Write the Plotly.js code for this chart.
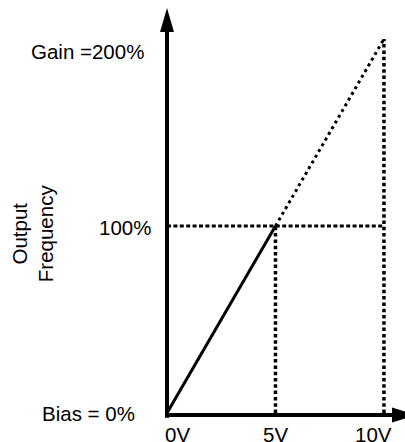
<!DOCTYPE html>
<html>
<head>
<meta charset="utf-8">
<script src="https://cdn.plot.ly/plotly-3.0.1.min.js"></script>
<style>html,body{margin:0;padding:0;background:#fff;}#chart{width:405px;height:442px;}</style>
</head>
<body>
<div id="chart"></div>
<script>
// ---- data ----
const voltTicks = [0, 5, 10];
const voltLabels = ['0V', '5V', '10V'];
const freqLevels = [0, 100, 200];
const freqLabels = ['Bias = 0%', '100%', 'Gain =200%'];
const linearX = [0, 5];        // solid segment (volts)
const linearY = [0, 100];      // output frequency %
const extX = [5, 10];          // dotted extension (volts)
const extY = [100, 200];
const yTitle = 'Output<br>Frequency';

// ---- styles ----
const FONT = 'Liberation Sans, Arial, sans-serif';
const FS = 20.5;
const tickShift = [10, 0, -10];
const labelShift = [[-30, 0], [-14, -1], [-21, -12]];

const traces = [
  {x: linearX, y: linearY, mode: 'lines', line: {color: '#000', width: 3}, hoverinfo: 'skip'},
  {x: extX, y: extY, mode: 'lines', line: {color: '#000', width: 3, dash: '3px,3.6px'}, hoverinfo: 'skip'},
  // horizontal guide at 100%
  {x: [voltTicks[0], voltTicks[2]], y: [freqLevels[1], freqLevels[1]], mode: 'lines',
   line: {color: '#000', width: 3, dash: '4px,2.4px'}, hoverinfo: 'skip'},
  // vertical guide at 5V
  {x: [voltTicks[1], voltTicks[1]], y: [freqLevels[0], freqLevels[1]], mode: 'lines',
   line: {color: '#000', width: 3.5, dash: '3.5px,2.8px'}, hoverinfo: 'skip'},
  // vertical guide at 10V
  {x: [voltTicks[2], voltTicks[2]], y: [freqLevels[0], freqLevels[2]], mode: 'lines',
   line: {color: '#000', width: 3.5, dash: '3.5px,2.8px'}, hoverinfo: 'skip'}
];

const annotations = [];
voltTicks.forEach((v, i) => {
  annotations.push({x: v, y: 0, xref: 'x', yref: 'y', text: voltLabels[i], showarrow: false,
    xanchor: 'center', yanchor: 'middle', xshift: tickShift[i], yshift: -21,
    font: {family: FONT, size: FS, color: '#000'}});
});
freqLevels.forEach((f, i) => {
  annotations.push({x: 0, y: f, xref: 'paper', yref: 'y', text: freqLabels[i], showarrow: false,
    xanchor: 'right', yanchor: 'middle', xshift: labelShift[i][0], yshift: labelShift[i][1],
    font: {family: FONT, size: FS, color: '#000'}});
});
annotations.push({x: 0, y: 0.444, xref: 'paper', yref: 'paper', text: yTitle, showarrow: false,
  textangle: -90, xanchor: 'center', yanchor: 'middle', xshift: -134,
  font: {family: FONT, size: FS, color: '#000'}});

const shapes = [
  // y axis line
  {type: 'line', xref: 'paper', yref: 'paper', xsizemode: 'pixel', xanchor: 0, x0: 0, x1: 0,
   y0: -0.012, y1: 0.95, line: {color: '#000', width: 4}},
  // x axis line
  {type: 'line', xref: 'paper', yref: 'paper', ysizemode: 'pixel', yanchor: 0, y0: -2, y1: -2,
   x0: -0.008, x1: 0.96, line: {color: '#000', width: 4}},
  // y arrowhead
  {type: 'path', xref: 'paper', yref: 'paper', xsizemode: 'pixel', ysizemode: 'pixel',
   xanchor: 0, yanchor: 1, path: 'M-7,-24 L7,-24 L0,0 Z', fillcolor: '#000', line: {width: 0}},
  // x arrowhead
  {type: 'path', xref: 'paper', yref: 'paper', xsizemode: 'pixel', ysizemode: 'pixel',
   xanchor: 1, yanchor: 0, path: 'M-13,5.5 L-13,-9.5 L11,-2 Z', fillcolor: '#000', line: {width: 0}}
];

const layout = {
  width: 405, height: 442,
  margin: {l: 167, r: 0, t: 8, b: 29, pad: 0},
  paper_bgcolor: '#fff', plot_bgcolor: '#fff',
  showlegend: false,
  xaxis: {range: [0, 10.97], visible: false, fixedrange: true},
  yaxis: {range: [0, 216.6], visible: false, fixedrange: true},
  annotations: annotations,
  shapes: shapes
};

Plotly.newPlot('chart', traces, layout, {displayModeBar: false, staticPlot: true});
</script>
</body>
</html>
